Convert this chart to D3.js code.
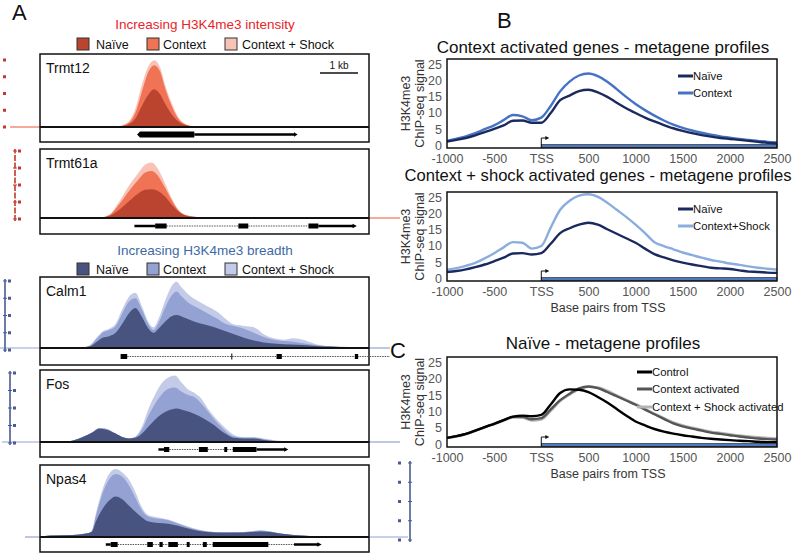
<!DOCTYPE html>
<html><head><meta charset="utf-8">
<script src="https://cdn.jsdelivr.net/npm/d3@7/dist/d3.min.js"></script>
<style>body{margin:0;background:#fff}svg{display:block;font-family:"Liberation Sans",Arial,Helvetica,sans-serif}</style>
</head><body><svg id="c" width="800" height="553"></svg>
<script>
// ---------------- DATA ----------------
// Panel A: genome browser tracks, position in % of window, signal in % of track height
const trmt12Naive = [[0,0],[20,0.5],[24,1],[27,4],[29,12],[31,30],[33,46],[34.7,53],[36.5,46],[38,33],[40,18],[42,8],[44,3],[46,1],[50,0.5],[100,0]];
const trmt12Context = [[0,0],[20,0.5],[24,1],[27,6],[29,20],[31,50],[33,78],[34.7,87],[36.5,78],[38,55],[40,30],[42,12],[44,4],[47,1],[100,0]];
const trmt12Shock = [[0,0],[20,0.5],[24,1.5],[27,8],[29,26],[31,60],[33,86],[34.7,94],[36.5,84],[38,60],[40,34],[42,14],[44,5],[47,1],[100,0]];

const trmt61aNaive = [[0,0],[18,0.5],[21,3],[24,12],[27,25],[30,37],[32,42],[34,43],[36,40],[38,32],[40,20],[42,10],[44,4],[47,1.5],[52,0.5],[100,0]];
const trmt61aContext = [[0,0],[18,0.5],[21,4],[24,20],[27,40],[30,58],[32,68],[34,70],[36,62],[38,45],[40,27],[42,12],[44,5],[47,2],[52,0.5],[100,0]];
const trmt61aShock = [[0,0],[18,0.5],[21,5],[24,24],[27,48],[30,68],[32,80],[34,83],[36,72],[38,52],[40,30],[42,13],[44,5],[47,2],[52,0.5],[100,0]];

const calm1Naive = [[0,0],[12,0.5],[15,2],[17,8],[19,15],[21,17],[23,22],[25,35],[27,50],[29,58],[31,45],[33,28],[34.5,22],[36,28],[38,38],[40,46],[41.5,48],[44,44],[47,38],[50,34],[53,30],[56,25],[59,20],[62,15],[65,11],[68,8],[72,6],[76,5],[80,4.5],[84,3],[88,2],[94,1],[100,1]];
const calm1Context = [[0,0],[12,0.5],[15,3],[17,12],[19,22],[21,26],[23,32],[25,50],[27,67],[29,72],[31,55],[33,34],[34.5,26],[36,36],[38,58],[40,76],[41.5,82],[43,75],[45,66],[48,58],[51,50],[54,42],[56,36],[59,32],[62,28],[65,22],[68,16],[71,12],[74,10],[77,9],[80,7],[84,4],[88,2.5],[94,1.5],[100,1]];
const calm1Shock = [[0,0],[12,0.5],[15,3.5],[17,14],[19,24],[21,28],[23,35],[25,56],[27,74],[29,80],[31,60],[33,37],[34.5,30],[36,42],[38,68],[40,90],[41.5,96],[43,88],[45,78],[48,68],[51,60],[54,52],[56,44],[59,34],[62,32],[65,30],[68,20],[71,14],[74,12],[77,14],[80,12],[83,7],[87,3],[94,1.5],[100,1]];

const fosNaive = [[0,0],[8,0.5],[10,2],[13,7],[16,14],[18,19],[20,18],[23,12],[25,7],[27,5],[29,6],[31,12],[33,22],[35,32],[37,40],[39,45],[41.5,48],[44,45],[47,40],[50,33],[53,24],[55,16],[57,10],[59,6],[62,5],[65,5],[68,3],[72,1],[78,0.5],[100,0]];
const fosContext = [[0,0],[8,0.5],[10,2],[13,7],[16,14],[18,20],[20,19],[23,12],[25,7],[27,5],[29,7],[31,18],[33,38],[35,55],[37,68],[39,76],[41,78],[43,72],[45,67],[47,64],[49,55],[51,44],[53,32],[55,22],[57,13],[59,8],[62,6],[65,6],[68,4],[72,1.5],[78,0.5],[100,0]];
const fosShock = [[0,0],[8,0.5],[10,2],[13,7],[16,14],[18,20],[20,19],[23,12],[25,7],[27,5],[29,8],[31,22],[33,48],[35,68],[37,84],[39,92],[41,95],[43,85],[45,75],[47,70],[49,62],[51,48],[53,36],[55,26],[57,17],[59,10],[62,7],[65,7],[68,5],[72,2],[78,0.5],[100,0]];

const npas4Naive = [[0,0],[3,2],[10,3],[14,5],[15.7,7],[17,22],[19,40],[21,52],[23,58],[25,54],[27,45],[29,36],[31,28],[33,22],[36,20],[39,19],[42,16],[45,12],[48,9],[51,7],[55,6],[60,6],[64,7],[67,8],[70,7],[73,5],[77,3],[82,1.5],[90,0.7],[100,0.5]];
const npas4Context = [[0,0],[3,2],[10,3],[14,5],[15.7,8],[17,30],[19,62],[21,82],[23,90],[25,86],[27,74],[29,56],[31,38],[33,29],[36,26],[39,24],[42,19],[45,14],[48,10],[51,8],[55,7],[60,7],[64,8],[67,9],[70,8],[73,5],[77,3],[82,1.5],[90,0.7],[100,0.5]];
const npas4Shock = [[0,0],[3,2],[10,3],[14,5],[15.7,9],[17,34],[19,68],[21,90],[23,97],[25,92],[27,82],[29,64],[31,42],[33,31],[36,28],[39,25],[42,20],[45,15],[48,11],[51,8],[55,7],[60,7],[64,8],[67,10],[70,8],[73,5],[77,3],[82,1.5],[90,0.7],[100,0.5]];

// gene models: exons [start,end], lines (solid) and introns (dotted), arrow tip
const geneModels = {
  Trmt12: {exons:[[30.4,46.9]], lines:[[46.9,77.5]], introns:[], tip:78.3, leftTip:29.5},
  Trmt61a:{exons:[[35.0,38.5],[60.3,63.3],[81.6,84.6]], lines:[[28.7,35.0],[84.6,95.3]], introns:[[38.5,60.3],[63.3,81.6]], tip:96.3},
  Calm1:  {exons:[[24.5,26.5],[71.9,73.5],[95.7,96.7]], lines:[], introns:[[26.5,106.4]], marks:[58.3]},
  Fos:    {exons:[[37.7,39.3],[48.3,51.0],[56.0,56.9],[58.6,65.8]], lines:[[36.0,37.7],[65.8,74.5]], introns:[[39.3,48.3],[51.0,56.0],[56.9,58.6]], tip:75.5},
  Npas4:  {exons:[[21.5,23.6],[32.6,34.3],[36.3,37.3],[39.0,41.9],[44.6,45.5],[49.5,50.7],[52.5,69.4]], lines:[[20.0,21.5],[77.2,84.6]], introns:[[23.6,32.6],[34.3,36.3],[37.3,39.0],[41.9,44.6],[45.5,49.5],[50.7,52.5],[69.4,77.2]], tip:85.6}
};
const trackConds = ["Naïve","Context","Context + Shock"];

// Panels B/C: metagene profiles, positions in bp from TSS
const bp = [-1000,-900,-800,-700,-600,-500,-400,-300,-200,-100,0,100,200,300,400,500,600,700,800,900,1000,1100,1200,1300,1400,1500,1600,1700,1800,1900,2000,2100,2200,2300,2400,2500];
const b1Naive = [2.0,2.5,3.1,3.9,4.9,5.9,7.0,8.4,8.5,7.8,7.8,10.8,14.8,16.2,17.6,18.0,17.2,15.8,14.0,12.3,10.8,9.4,8.2,7.1,6.1,5.3,4.6,4.0,3.5,3.1,2.8,2.5,2.2,1.9,1.6,1.4];
const b1Context = [2.2,2.9,3.6,4.6,5.8,7.0,8.6,10.2,9.8,8.6,9.4,13.0,17.5,20.5,22.4,23.0,22.2,20.5,18.2,15.8,13.6,11.7,10.0,8.5,7.2,6.2,5.4,4.7,4.1,3.6,3.2,2.8,2.5,2.2,1.9,1.7];
const b2Naive = [2.8,3.1,3.6,4.3,5.1,6.1,7.2,8.5,8.6,8.2,8.6,11.5,14.8,16.3,17.4,18.0,17.4,16.0,14.6,13.2,11.8,10.0,8.3,7.3,6.4,5.7,5.1,4.6,4.1,3.9,3.7,3.3,2.9,2.8,2.6,2.5];
const b2Shock = [3.5,4.0,4.7,5.6,7.0,8.6,10.4,12.0,11.8,10.0,10.8,16.5,22.0,24.8,26.4,26.8,26.0,24.2,22.0,19.8,17.4,14.8,12.0,10.8,9.8,8.8,8.0,7.2,6.5,6.0,5.4,5.0,4.5,4.1,3.8,3.5];
const cControl = [2.8,3.3,4.0,5.0,6.1,7.1,8.2,9.3,9.6,9.4,9.8,13.0,16.5,17.6,17.5,16.8,15.3,13.6,11.6,9.6,7.8,6.6,5.5,4.7,4.1,3.6,3.2,2.8,2.5,2.3,2.1,1.9,1.8,1.6,1.5,1.5];
const cContextAct = [2.8,3.3,4.0,5.0,6.1,7.1,8.2,9.2,9.2,8.5,8.8,11.5,14.3,16.3,17.9,18.5,18.0,16.8,15.5,14.2,12.9,11.4,10.0,8.6,7.2,6.3,5.6,5.0,4.4,4.0,3.6,3.2,2.9,2.6,2.4,2.3];
const cShockAct = [2.8,3.2,3.9,4.9,6.0,7.0,8.0,9.0,8.9,8.1,8.4,11.0,14.0,16.0,17.6,18.4,18.2,17.2,15.8,14.4,13.1,11.6,10.2,8.8,7.5,6.6,5.9,5.3,4.7,4.3,3.9,3.5,3.2,3.0,2.8,2.6];
const xTickVals = [-1000,-500,0,500,1000,1500,2000,2500];
const yTickVals = [0,5,10,15,20,25];

// ---------------- DRAW ----------------
const svg = d3.select("#c");
svg.append("rect").attr("width",800).attr("height",553).attr("fill","#fff");
const FONT = '"Liberation Sans",Arial,Helvetica,sans-serif';

[["A",12,20],["B",497,28],["C",390,358]].forEach(([t,x,y])=>{
  svg.append("text").attr("x",x).attr("y",y).attr("font-size",22).attr("fill","#111").text(t);
});

// ---- Panel A ----
const red = {col:["#bb4431","#f07356","#f8c3b5"], title:"#e8242b"};
const blue = {col:["#48547f","#93a2d3","#c3cbe9"], title:"#3d6aa6"};
const xT = d3.scaleLinear().domain([0,100]).range([40,369]);

function groupHeader(title, pal, yTitle, yLeg){
  svg.append("text").attr("x",205).attr("y",yTitle).attr("text-anchor","middle")
    .attr("font-size",13.5).attr("fill",pal.title).text(title);
  const sqX = [77,147,225], txX = [96,163,242];
  trackConds.forEach((c,i)=>{
    svg.append("rect").attr("x",sqX[i]).attr("y",yLeg-6).attr("width",12).attr("height",12)
      .attr("fill",pal.col[i]).attr("stroke","#333").attr("stroke-width",1);
    svg.append("text").attr("x",txX[i]).attr("y",yLeg+5).attr("font-size",12.5).attr("fill","#111").text(c);
  });
}
groupHeader("Increasing H3K4me3 intensity", red, 29, 44);
groupHeader("Increasing H3K4me3 breadth", blue, 255, 269);

const tracks = [
  {name:"Trmt12", top:54, base:127, bottom:142, pal:red, data:[trmt12Naive,trmt12Context,trmt12Shock], ext:[[10,40]], axis:{x:3,side:"sq",y0:127,y1:60}},
  {name:"Trmt61a", top:149, base:218, bottom:234, pal:red, data:[trmt61aNaive,trmt61aContext,trmt61aShock], ext:[[369,400]], axis:{x:15,side:"line",y0:219,y1:151}},
  {name:"Calm1", top:277, base:348, bottom:365, pal:blue, data:[calm1Naive,calm1Context,calm1Shock], ext:[[0,40],[369,390]], axis:{x:5,side:"line",y0:350,y1:281}},
  {name:"Fos", top:370, base:442, bottom:457, pal:blue, data:[fosNaive,fosContext,fosShock], ext:[[2,40],[369,400]], axis:{x:10,side:"line",y0:443,y1:373}},
  {name:"Npas4", top:465, base:537, bottom:552, pal:blue, data:[npas4Naive,npas4Context,npas4Shock], ext:[[25,40],[369,408]], axis:{x:410,side:"lineR",y0:540,y1:463}}
];

tracks.forEach(t=>{
  const g = svg.append("g");
  const yT = d3.scaleLinear().domain([0,100]).range([t.base, t.top+2]);
  const area = d3.area().x(d=>xT(d[0])).y0(yT(0)).y1(d=>yT(d[1])).curve(d3.curveMonotoneX);
  [2,1,0].forEach(i=>{
    g.append("path").attr("d",area(t.data[i])).attr("fill",t.pal.col[i]);
  });
  t.ext.forEach(([a,b])=>{
    g.append("line").attr("x1",a).attr("x2",b).attr("y1",t.base).attr("y2",t.base)
      .attr("stroke",t.pal.col[1]).attr("stroke-width",1.2);
  });
  const ya = d3.scaleLinear().domain([0,4]).range([t.axis.y0, t.axis.y1]);
  const ticks = d3.range(0,5);
  const ac = t.pal === red ? "#c0392b" : "#4a5a93";
  if (t.axis.side !== "sq"){
    g.append("line").attr("x1",t.axis.x).attr("x2",t.axis.x).attr("y1",t.axis.y0+2).attr("y2",t.axis.y1-2)
      .attr("stroke",ac).attr("stroke-width",1.6).attr("stroke-dasharray", t.pal===red?"6,1.5":null);
  }
  const dx = t.axis.side==="lineR" ? -12 : (t.axis.side==="sq"?0:3);
  ticks.forEach(k=>{
    g.append("rect").attr("x",t.axis.x+dx).attr("y",ya(k)-1.5).attr("width",3).attr("height",3).attr("fill",ac);
    if (t.axis.side!=="sq") g.append("line").attr("x1",t.axis.x-2).attr("x2",t.axis.x+2).attr("y1",ya(k)).attr("y2",ya(k)).attr("stroke",ac).attr("stroke-width",1);
  });
  g.append("rect").attr("x",40).attr("y",t.top).attr("width",329).attr("height",t.bottom-t.top)
    .attr("fill","none").attr("stroke","#111").attr("stroke-width",1.5);
  g.append("line").attr("x1",40).attr("x2",369).attr("y1",t.base).attr("y2",t.base).attr("stroke","#111").attr("stroke-width",1.8);
  g.append("text").attr("x",46).attr("y",t.top+19).attr("font-size",14).attr("fill","#111").text(t.name);
  const gm = geneModels[t.name];
  const gy = (t.base+t.bottom)/2;
  gm.introns.forEach(([a,b])=>{
    g.append("line").attr("x1",xT(a)).attr("x2",xT(b)).attr("y1",gy).attr("y2",gy)
      .attr("stroke","#555").attr("stroke-width",1).attr("stroke-dasharray","1.5,1");
  });
  gm.lines.forEach(([a,b])=>{
    g.append("line").attr("x1",xT(a)).attr("x2",xT(b)).attr("y1",gy).attr("y2",gy).attr("stroke","#000").attr("stroke-width",2.5);
  });
  const eh = t.name==="Trmt12" ? 6 : 5;
  gm.exons.forEach(([a,b])=>{
    g.append("rect").attr("x",xT(a)).attr("y",gy-eh/2).attr("width",xT(b)-xT(a)).attr("height",eh).attr("fill","#000");
  });
  if (gm.marks) gm.marks.forEach(m=>{
    g.append("line").attr("x1",xT(m)).attr("x2",xT(m)).attr("y1",gy-3).attr("y2",gy+3).attr("stroke","#000").attr("stroke-width",1);
  });
  if (gm.tip){
    const last = gm.lines[gm.lines.length-1][1];
    g.append("path").attr("d",`M${xT(last)-1},${gy-2.2}L${xT(gm.tip)},${gy}L${xT(last)-1},${gy+2.2}Z`).attr("fill","#000");
  }
  if (gm.leftTip){
    const first = gm.exons[0][0];
    g.append("path").attr("d",`M${xT(first)},${gy-3}L${xT(gm.leftTip)},${gy}L${xT(first)},${gy+3}Z`).attr("fill","#000");
  }
});
svg.append("line").attr("x1",320).attr("x2",358).attr("y1",73).attr("y2",73).attr("stroke","#111").attr("stroke-width",1.5);
svg.append("text").attr("x",339).attr("y",69).attr("text-anchor","middle").attr("font-size",10).attr("fill","#111").text("1 kb");

// ---- Panels B & C ----
const xM = d3.scaleLinear().domain([-1000,2500]).range([447,777]);
const plots = [
  {title:"Context activated genes - metagene profiles", tx:603, ty:53, fs:17, top:59, bottom:148,
   series:[{v:b1Naive,c:"#1b2a5e",n:"Naïve"},{v:b1Context,c:"#4672c6",n:"Context"}], legX:678, legY:[76,93], xlab:false},
  {title:"Context + shock activated genes - metagene profiles", tx:598, ty:181, fs:16.6, top:192, bottom:281,
   series:[{v:b2Naive,c:"#1b2a5e",n:"Naïve"},{v:b2Shock,c:"#8badde",n:"Context+Shock"}], legX:678, legY:[209,226], xlab:true},
  {title:"Naïve - metagene profiles", tx:603, ty:349, fs:17, top:357, bottom:447,
   series:[{v:cControl,c:"#000",n:"Control"},{v:cContextAct,c:"#555",n:"Context activated"},{v:cShockAct,c:"#b4b4b4",n:"Context + Shock activated"}], legX:637, legY:[372,389,407], xlab:true}
];
plots.forEach(p=>{
  const g = svg.append("g");
  const y = d3.scaleLinear().domain([0,27.5]).range([p.bottom,p.top]);
  g.append("text").attr("x",p.tx).attr("y",p.ty).attr("text-anchor","middle").attr("font-size",p.fs).attr("fill","#111").text(p.title);
  const ya = g.append("g").attr("transform",`translate(${xM(-1000)},0)`)
    .call(d3.axisLeft(y).tickValues(yTickVals).tickSize(0).tickPadding(5));
  ya.select(".domain").remove();
  ya.selectAll("text").attr("font-size",12.5).attr("fill","#555").attr("font-family",FONT).attr("dy","0.1em");
  const xa = g.append("g").attr("transform",`translate(0,${p.bottom})`)
    .call(d3.axisBottom(xM).tickValues(xTickVals).tickSize(0).tickPadding(6.5).tickFormat(d=>d===0?"TSS":d));
  xa.select(".domain").remove();
  xa.selectAll("text").attr("font-size",12.5).attr("fill","#555").attr("font-family",FONT);
  const cy = (p.top+p.bottom)/2;
  g.append("text").attr("transform",`translate(409.5,${cy}) rotate(-90)`).attr("text-anchor","middle").attr("font-size",12.5).attr("fill","#333").text("H3K4me3");
  g.append("text").attr("transform",`translate(424,${cy}) rotate(-90)`).attr("text-anchor","middle").attr("font-size",12.5).attr("fill","#333").text("ChIP-seq signal");
  if (p.xlab) g.append("text").attr("x",608).attr("y",p.bottom+31).attr("text-anchor","middle").attr("font-size",12.5).attr("fill","#333").text("Base pairs from TSS");
  g.append("rect").attr("x",xM(0)).attr("y",y(0)-3.5).attr("width",xM(2500)-xM(0)).attr("height",3)
    .attr("fill","#4d79c4").attr("stroke","#1a1a1a").attr("stroke-width",0.6);
  g.append("path").attr("d",`M${xM(0)},${y(0)}V${y(0)-10}H${xM(0)+5}`).attr("fill","none").attr("stroke","#111").attr("stroke-width",1);
  g.append("path").attr("d",`M${xM(0)+4},${y(0)-12}L${xM(0)+8},${y(0)-10}L${xM(0)+4},${y(0)-8}Z`).attr("fill","#111");
  const line = d3.line().x((d,i)=>xM(bp[i])).y(d=>y(d)).curve(d3.curveMonotoneX);
  p.series.slice().reverse().forEach(s=>{
    g.append("path").attr("d",line(s.v)).attr("fill","none").attr("stroke",s.c).attr("stroke-width",2.4);
  });
  p.series.forEach((s,i)=>{
    g.append("line").attr("x1",p.legX).attr("x2",p.legX+15).attr("y1",p.legY[i]).attr("y2",p.legY[i]).attr("stroke",s.c).attr("stroke-width",3);
    g.append("text").attr("x",p.legX+15).attr("y",p.legY[i]+4).attr("font-size",11.3).attr("fill","#111").text(s.n);
  });
  g.append("rect").attr("x",447).attr("y",p.top).attr("width",330).attr("height",p.bottom-p.top)
    .attr("fill","none").attr("stroke","#111").attr("stroke-width",1.5);
});
</script></body></html>
